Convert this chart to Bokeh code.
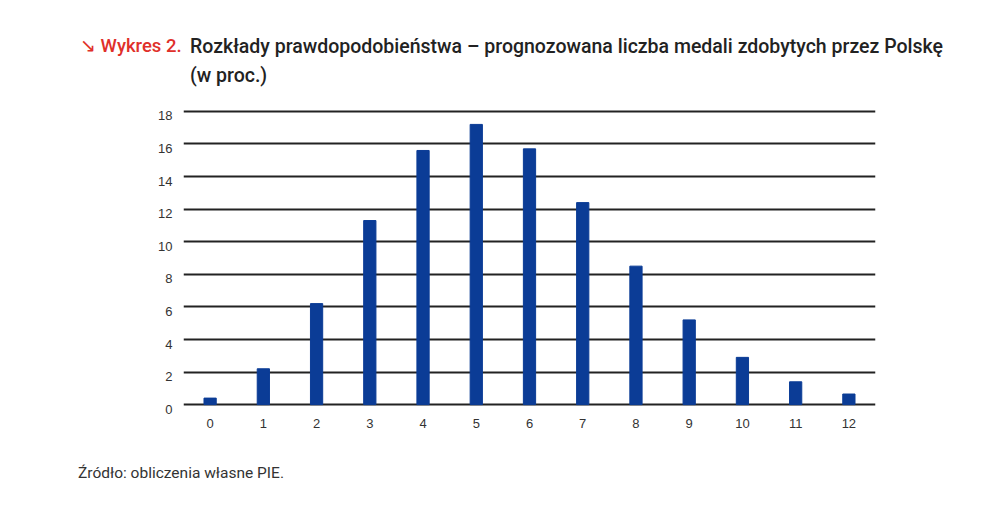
from bokeh.plotting import figure
from bokeh.models import FixedTicker, Range1d, Div, LinearAxis
from bokeh.layouts import column
from bokeh.embed import file_html
from bokeh.resources import INLINE

medals = [str(i) for i in range(13)]
medal_pos = list(range(13))
probability = [0.4, 2.2, 6.2, 11.3, 15.6, 17.2, 15.7, 12.4, 8.5, 5.2, 2.9, 1.4, 0.65]
y_ticks = [0, 2, 4, 6, 8, 10, 12, 14, 16, 18]

title_red = "\u2198 Wykres 2."
title_main = "Rozk\u0142ady prawdopodobie\u0144stwa \u2013 prognozowana liczba medali zdobytych przez Polsk\u0119"
title_line2 = "(w proc.)"
source = "\u0179r\u00f3d\u0142o: obliczenia w\u0142asne PIE."

p = figure(width=985, height=360, output_backend="svg", toolbar_location=None,
           x_range=Range1d(-0.5, 12.5), y_range=Range1d(-0.3, 18.3),
           y_axis_location=None,
           min_border_left=183, min_border_right=110, min_border_top=11, min_border_bottom=46)
p.outline_line_color = None
p.background_fill_color = "white"
p.border_fill_color = "white"

p.vbar(x=medal_pos, top=probability, width=0.23, color="#0B3C96")

# label axis slightly shifted so labels sit just below their grid lines
p.extra_y_ranges = {"labels": Range1d(-0.3 + 0.28, 18.3 + 0.28)}
yax = LinearAxis(y_range_name="labels", ticker=FixedTicker(ticks=y_ticks))
p.add_layout(yax, "left")

p.xaxis.ticker = FixedTicker(ticks=medal_pos)
p.xaxis.major_label_overrides = {i: medals[i] for i in medal_pos}
for ax in (p.xaxis[0], yax):
    ax.axis_line_color = None
    ax.major_tick_line_color = None
    ax.minor_tick_line_color = None
    ax.major_label_text_font = "Liberation Sans"
    ax.major_label_text_font_size = "13px"
    ax.major_label_text_color = "#333333"
p.xaxis.major_label_standoff = 3
yax.major_label_standoff = 5

p.xgrid.grid_line_color = None
p.ygrid.ticker = FixedTicker(ticks=y_ticks)
p.ygrid.grid_line_color = "#222222"
p.ygrid.grid_line_width = 2

title_html = (
    '<div style="display:flex;padding:32px 0 0 80px;font-family:Roboto;font-size:19.5px;'
    'font-weight:500;line-height:29px;color:#222222;white-space:nowrap;">'
    f'<div style="width:110px;color:#E0302A;flex:none;font-size:18.5px;">{title_red}</div>'
    f'<div>{title_main}<br>{title_line2}</div></div>'
)
top = Div(text=title_html, width=985, height=95, margin=0)
bottom = Div(text=(f'<div style="padding:8px 0 0 78px;font-family:Roboto;font-size:15.5px;'
                   f'line-height:20px;color:#333333;">{source}</div>'),
             width=985, height=40, margin=0)

layout = column(top, p, bottom, spacing=0)
open("out.html", "w").write(file_html(layout, INLINE))
